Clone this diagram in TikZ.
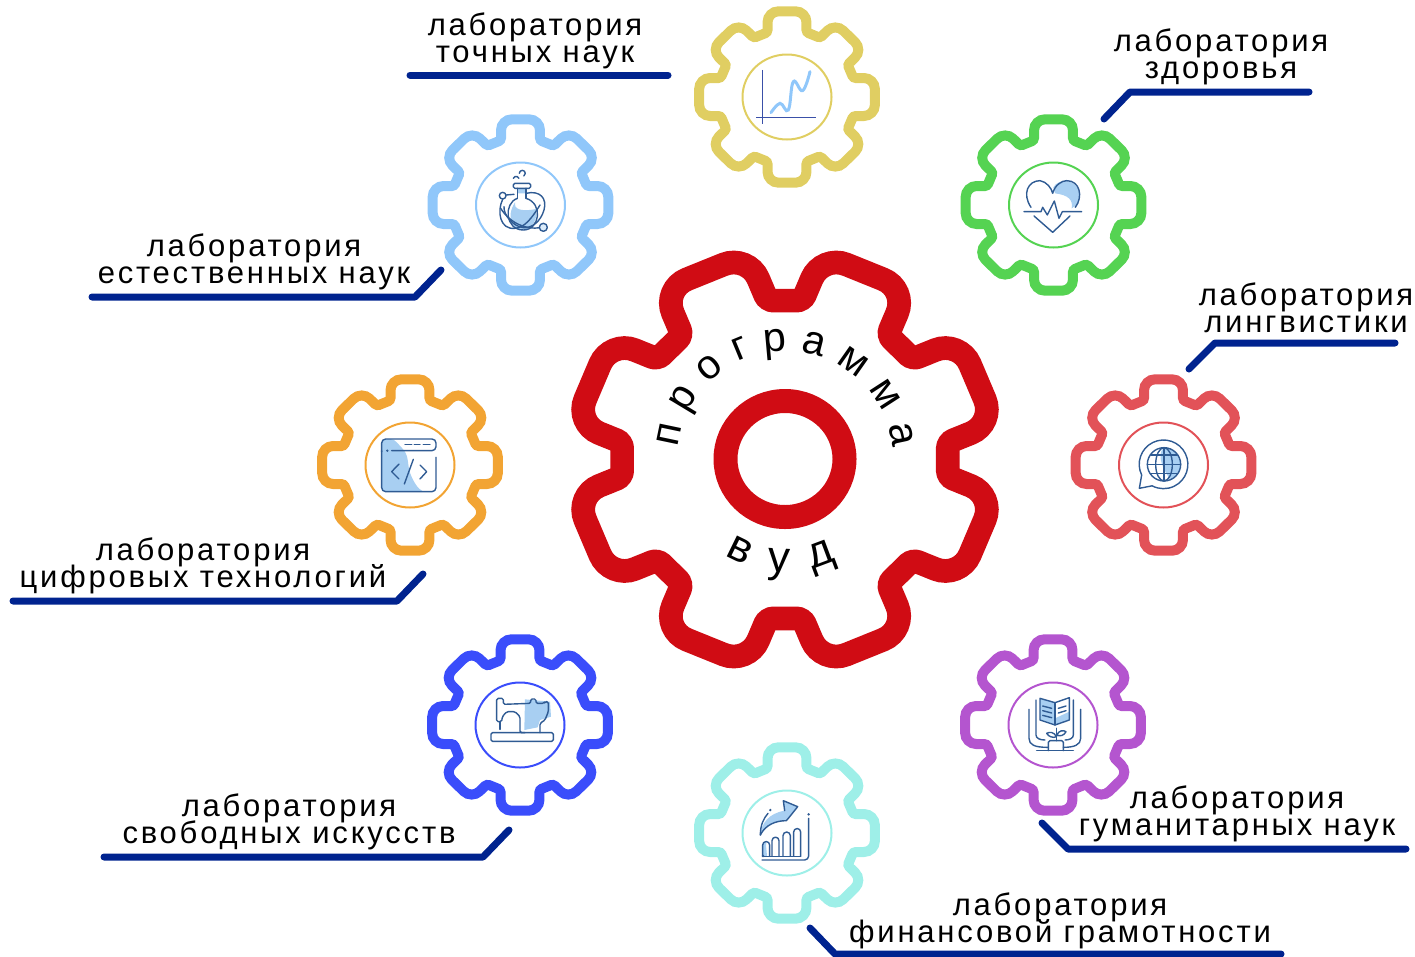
\documentclass[tikz,border=0pt]{standalone}
\usepackage{fontspec}
\setmainfont{Liberation Sans}
\newfontfamily\labfont[LetterSpace=9]{Liberation Sans}
\usetikzlibrary{decorations.text}
\setlength{\lineskiplimit}{-40pt}
\setlength{\normallineskiplimit}{-40pt}

\definecolor{navyline}{HTML}{00238F}
\definecolor{icondark}{HTML}{2F5B93}
\definecolor{iconlight}{HTML}{A8CFF2}
\definecolor{axisblue}{HTML}{3A50A8}
\definecolor{gearred}{HTML}{D00C14}
\definecolor{gearyellow}{HTML}{E0CE62}
\definecolor{gearsky}{HTML}{90C7FA}
\definecolor{geargreen}{HTML}{55D352}
\definecolor{gearcoral}{HTML}{E25258}
\definecolor{gearorange}{HTML}{F2A433}
\definecolor{gearblue}{HTML}{3A4DFB}
\definecolor{gearpurple}{HTML}{B455CF}
\definecolor{gearaqua}{HTML}{9EEFE8}

\tikzset{labtext/.style={align=center, inner sep=0pt,
			font=\labfont\fontsize{31}{27}\selectfont}}
\tikzset{leader/.style={draw=navyline, line width=7pt, line cap=round, line join=round}}
\tikzset{icon/.style={draw=icondark, line width=1.4pt, line cap=round, line join=round}}
\tikzset{iconfill/.style={fill=iconlight, draw=none}}

% x, y, colour, size, rotation
\newcommand{\gearwheel}[5]{
	\begin{scope}[shift={(#1,#2)}, xscale=1.025, rotate=#5]
		\pgfmathsetmacro{\rb}{64.7*#4}
		\pgfmathsetmacro{\rt}{85.7*#4}
		\pgfmathsetmacro{\hw}{19*#4}
		\pgfmathsetmacro{\rs}{67*#4}
		\pgfmathsetmacro{\ca}{2.5*#4}
		\pgfmathsetmacro{\cb}{11*#4}
		\draw[draw=#3, line width=10pt*#4]
			(-22.5:\rs pt)
			\foreach \a in {0,45,...,315}{
				[rounded corners=\ca pt] -- ([rotate=\a]\rb pt,-\hw pt)
				[rounded corners=\cb pt] -- ([rotate=\a]\rt pt,-\hw pt)
				-- ([rotate=\a]\rt pt,\hw pt)
				[rounded corners=\ca pt] -- ([rotate=\a]\rb pt,\hw pt)
			} -- cycle;
	\end{scope}
}

\begin{document}
\begin{tikzpicture}[x=1pt, y=-1pt]
	\useasboundingbox (0,0) rectangle (1415,956);

	\gearwheel{785}{459.5}{gearred}{2.37}{22.5}
	\gearwheel{787}{97}{gearyellow}{1}{0}
	\gearwheel{520.5}{205}{gearsky}{1}{0}
	\gearwheel{1053.5}{205}{geargreen}{1}{0}
	\gearwheel{1163.5}{465}{gearcoral}{1}{0}
	\gearwheel{410}{465}{gearorange}{1}{0}
	\gearwheel{520}{725}{gearblue}{1}{0}
	\gearwheel{1053}{725}{gearpurple}{1}{0}
	\gearwheel{787}{833}{gearaqua}{1}{0}

	\draw[gearred, line width=24pt] (785,459) ellipse [x radius=59.5pt, y radius=58pt];
	\foreach \cx/\cy/\col in {787/97/gearyellow, 520.5/205/gearsky, 1053.5/205/geargreen,
			1163.5/465/gearcoral, 410/465/gearorange, 520/725/gearblue,
			1053/725/gearpurple, 787/833/gearaqua}{
		\draw[\col, line width=2pt] (\cx,\cy) ellipse [x radius=44.5pt, y radius=42.5pt];
	}

	\coordinate (mid) at (785,459);
	\path[postaction={decorate}, decoration={text along path, text align={fit to path},
			text={|\fontsize{41}{41}\selectfont|программа}}]
		(mid)++(174:108pt) arc [start angle=174, end angle=6, radius=108pt];
	\path[postaction={decorate}, decoration={text along path, text align={fit to path},
			text={|\fontsize{44}{44}\selectfont|вуд}}]
		(mid)++(238:113pt) arc [start angle=238, end angle=297, radius=113pt];

	% labels
	\node[labtext] (exact) at (535,41) {лаборатория\\точных наук};
	\node[labtext] (health) at (1221,57) {лаборатория\\здоровья};
	\node[labtext] (nature) at (254,262) {лаборатория\\естественных наук};
	\node[labtext] (lingua) at (1306,308) {лаборатория\\лингвистики};
	\node[labtext] (digital) at (203,566) {лаборатория\\цифровых технологий};
	\node[labtext] (arts) at (289,822) {лаборатория\\свободных искусств};
	\node[labtext] (human) at (1237,814) {лаборатория\\гуманитарных наук};
	\node[labtext] (money) at (1060,921) {лаборатория\\финансовой грамотности};

	% leaders
	\coordinate (a1) at (410,75);
	\coordinate (a2) at (668,75);
	\draw[leader] (a1) -- (a2);
	\coordinate (b1) at (1104,119);
	\coordinate (b2) at (1130,92);
	\coordinate (b3) at (1309,92);
	\draw[leader] (b1) -- (b2) -- (b3);
	\coordinate (c1) at (92,297);
	\coordinate (c2) at (415,297);
	\coordinate (c3) at (441,270);
	\draw[leader] (c1) -- (c2) -- (c3);
	\coordinate (d1) at (1189,369);
	\coordinate (d2) at (1215,343);
	\coordinate (d3) at (1395,343);
	\draw[leader] (d1) -- (d2) -- (d3);
	\coordinate (e1) at (13,601);
	\coordinate (e2) at (397,601);
	\coordinate (e3) at (423,574);
	\draw[leader] (e1) -- (e2) -- (e3);
	\coordinate (f1) at (104,857);
	\coordinate (f2) at (483,857);
	\coordinate (f3) at (509,830);
	\draw[leader] (f1) -- (f2) -- (f3);
	\coordinate (g1) at (1042,823);
	\coordinate (g2) at (1068,849);
	\coordinate (g3) at (1406,849);
	\draw[leader] (g1) -- (g2) -- (g3);
	\coordinate (h1) at (810,928);
	\coordinate (h2) at (835,954);
	\coordinate (h3) at (1281,954);
	\draw[leader] (h1) -- (h2) -- (h3);

	% chart
	\begin{scope}[shift={(680,0)}, x=.3333pt, y=-.3333pt]
		\draw[gearsky, line width=3pt, line cap=round] plot[smooth, tension=.7] coordinates
			{(273,338) (300,310) (325,330) (340,245) (368,272) (390,215)};
		\draw[axisblue, line width=1.6pt] (248,210) -- (248,372);
		\draw[axisblue, line width=1.6pt] (228,353) -- (408,353);
	\end{scope}

	% flask
	\begin{scope}[shift={(490,165)}, x=.3333pt, y=-.3333pt]
		\path[iconfill] (80,70) -- (108,70) -- (108,85) -- (85,85) -- cycle;
		\path[iconfill] (75,112) .. controls (70,130) and (90,142) .. (138,132)
			.. controls (145,160) and (125,195) .. (100,195)
			.. controls (70,195) and (45,160) .. (75,112) -- cycle;
		\draw[icon] (82,100) .. controls (40,115) and (45,195) .. (100,195)
			.. controls (150,195) and (160,115) .. (108,100);
		\draw[icon, rounded corners=1.5pt] (70,55) rectangle (122,70);
		\draw[icon] (82,70) -- (82,100) (108,70) -- (108,100);
		\draw[icon] (48,90) -- (72,88);
		\draw[icon] (108,85) .. controls (150,75) and (172,100) .. (162,135)
			.. controls (152,170) and (125,190) .. (100,188)
			.. controls (70,185) and (40,150) .. (42,125);
		\draw[icon] (38,103) .. controls (20,140) and (30,195) .. (75,190)
			.. controls (105,187) and (125,160) .. (150,120);
		\draw[icon] (32,130) .. controls (60,175) and (110,195) .. (150,188);
		\draw[icon, fill=white] (38,92) circle [radius=10];
		\draw[icon, fill=iconlight!40] (160,187) circle [radius=12];
		\draw[icon] (70,40) arc [start angle=200, end angle=340, radius=9];
		\draw[icon] (88,25) arc [start angle=180, end angle=420, radius=9];
	\end{scope}

	% heart
	\begin{scope}[shift={(960,110)}, x=.3333pt, y=-.3333pt]
		\path[iconfill] (280,232) .. controls (295,205) and (345,205) .. (358,245)
			.. controls (365,265) and (350,290) .. (335,295)
			.. controls (340,270) and (325,255) .. (285,250) -- cycle;
		\draw[icon] (213,292) .. controls (185,250) and (205,212) .. (240,212)
			.. controls (260,215) and (275,235) .. (278,250)
			.. controls (285,225) and (305,212) .. (320,212)
			.. controls (360,212) and (370,260) .. (346,292);
		\draw[icon] (192,305) -- (243,305) -- (248,292) -- (262,315) -- (283,273)
			-- (297,325) -- (307,305) -- (365,305);
		\draw[icon] (222,318) -- (278,367) -- (330,318);
	\end{scope}

	% globe
	\begin{scope}[shift={(1110,410)}, x=.3333pt, y=-.3333pt]
		\path[iconfill] (162,113) .. controls (195,113) and (212,140) .. (212,163)
			.. controls (212,180) and (200,200) .. (180,208)
			.. controls (165,185) and (135,135) .. (162,113) -- cycle;
		\draw[icon] (95,195) arc [start angle=154, end angle=478, radius=73]
			-- (88,235) -- cycle;
		\draw[icon] (162,163) circle [radius=50];
		\draw[icon] (162,163) ellipse [x radius=25, y radius=50];
		\draw[icon] (162,113) -- (162,213) (112,163) -- (212,163);
		\draw[icon] (122,135) -- (202,135) (122,191) -- (202,191);
	\end{scope}

	% code window
	\begin{scope}[shift={(355,410)}, x=.3333pt, y=-.3333pt]
		\path[iconfill, rounded corners=4pt] (80,87) -- (118,87)
			.. controls (135,110) and (155,120) .. (160,165)
			.. controls (165,195) and (185,235) .. (210,245) -- (80,245) -- cycle;
		\draw[icon, rounded corners=4pt] (80,122) -- (80,245) -- (243,245) -- (243,142);
		\draw[icon, rounded corners=4pt] (110,122) -- (243,122) -- (243,87) -- (80,87) -- (80,125);
		\fill[icondark] (97,122) circle [radius=4];
		\draw[icon] (150,104) -- (170,104) (178,104) -- (195,104) (205,104) -- (225,104);
		\draw[icon] (132,162) -- (110,185) -- (132,207);
		\draw[icon] (195,165) -- (215,185) -- (195,207);
		\draw[icon] (175,148) -- (148,222);
	\end{scope}

	% sewing machine
	\begin{scope}[shift={(465,670)}, x=.3333pt, y=-.3333pt]
		\path[iconfill] (180,88) -- (255,95) -- (258,140) -- (225,150) -- (218,172) -- (178,180) -- cycle;
		\draw[icon, rounded corners=1.5pt] (78,188) rectangle (265,214);
		\draw[icon, rounded corners=1.5pt] (180,188) -- (165,188) -- (165,140) -- (150,125) -- (125,125)
			-- (112,140) -- (110,155) -- (95,155) -- (95,85) -- (115,85) -- (115,103) -- (197,100)
			-- (197,87) -- (213,87) -- (213,100) -- (237,100) -- (240,95) -- (250,95) -- (250,125)
			-- (240,150) -- (225,160) -- (225,188);
		\draw[icon] (105,155) -- (105,178);
	\end{scope}

	% book
	\begin{scope}[shift={(1000,670)}, x=.3333pt, y=-.3333pt]
		\path[iconfill] (120,85) -- (165,98) -- (165,165) -- (120,150) -- cycle;
		\path[iconfill] (165,145) -- (208,125) -- (208,150) -- (165,165) -- cycle;
		\draw[icon] (120,85) -- (165,98) -- (208,83) -- (208,150) -- (165,165) -- (120,150) -- cycle;
		\draw[icon] (165,98) -- (165,165);
		\draw[icon] (108,90) -- (108,195) .. controls (108,205) and (120,210) .. (135,210);
		\draw[icon] (220,90) -- (220,195) .. controls (220,205) and (208,210) .. (195,210);
		\draw[icon] (128,108) -- (155,115) (128,122) -- (155,129) (128,136) -- (155,143);
		\draw[icon] (175,115) -- (198,108) (175,129) -- (198,122);
		\draw[icon] (87,118) -- (87,205) .. controls (87,225) and (105,232) .. (143,232);
		\draw[icon] (242,118) -- (242,205) .. controls (242,225) and (222,232) .. (190,232);
		\draw[icon] (170,175) -- (170,212);
		\draw[icon] (170,200) .. controls (160,185) and (150,185) .. (140,190) .. controls (145,200) and (160,205) .. (170,200);
		\draw[icon] (170,195) .. controls (178,180) and (190,180) .. (198,185) .. controls (192,197) and (180,200) .. (170,195);
		\draw[icon, rounded corners=1.5pt] (145,242) -- (145,212) -- (190,212) -- (190,242);
		\draw[icon] (110,242) -- (220,242);
	\end{scope}

	% finance
	\begin{scope}[shift={(732,780)}, x=.3333pt, y=-.3333pt]
		\path[iconfill] (85,165) .. controls (88,130) and (110,100) .. (158,92) -- (154,62) -- (197,80)
			-- (169,115) -- (163,122) .. controls (130,122) and (100,135) .. (85,165) -- cycle;
		\path[iconfill] (92,228) -- (92,195) .. controls (95,185) and (108,185) .. (102,195) -- (105,228) -- cycle;
		\draw[icon] (85,165) .. controls (85,135) and (95,115) .. (108,100);
		\draw[icon] (85,165) .. controls (100,135) and (130,122) .. (163,122) -- (169,115) -- (197,80)
			-- (154,62) -- (158,92);
		\draw[icon] (92,228) -- (92,195) arc [start angle=180, end angle=360, radius=10.5] -- (113,228);
		\draw[icon] (120,228) -- (120,182) arc [start angle=180, end angle=360, radius=10.5] -- (141,228);
		\draw[icon] (153,228) -- (153,167) arc [start angle=180, end angle=360, radius=11] -- (175,228);
		\draw[icon] (185,228) -- (185,156) arc [start angle=180, end angle=360, radius=10.5] -- (206,228);
		\draw[icon] (92,229) -- (206,229);
		\draw[icon, rounded corners=4pt] (230,115) -- (230,240) -- (90,240);
		\fill[icondark] (115,90) circle [radius=4] (230,103) circle [radius=4] (93,228) circle [radius=4];
	\end{scope}
\end{tikzpicture}
\end{document}
